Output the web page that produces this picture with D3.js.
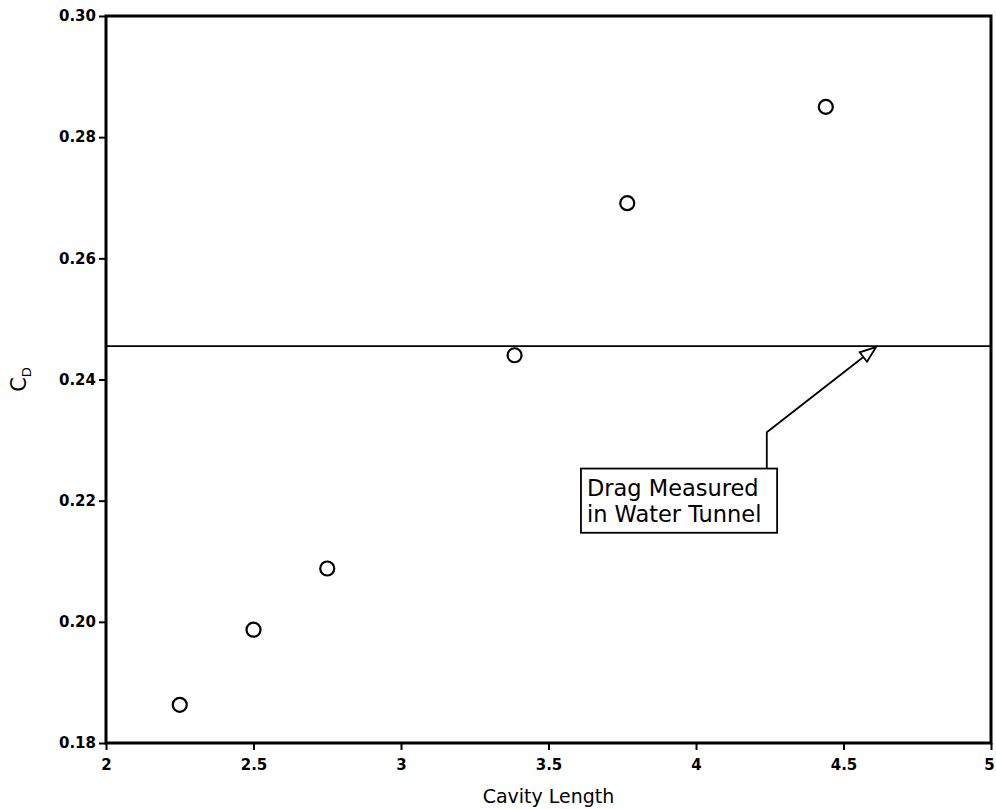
<!DOCTYPE html>
<html>
<head>
<meta charset="utf-8">
<script src="https://cdn.jsdelivr.net/npm/d3@7"></script>
<style>
  body { margin: 0; background: #fff; }
  svg { display: block; }
</style>
</head>
<body>
<div id="wrapper"></div>
<script>
// cavity length vs drag coefficient
const cavityLength = [2.25, 2.5, 2.75, 3.385, 3.767, 4.44];
const dragCoef = [0.1863, 0.1987, 0.2088, 0.2440, 0.2691, 0.2850];
const waterTunnelCd = 0.2455;
const xTicks = [2, 2.5, 3, 3.5, 4, 4.5, 5];
const yTicks = [0.18, 0.20, 0.22, 0.24, 0.26, 0.28, 0.30];
const noteLines = ["Drag Measured", "in Water Tunnel"];

const dimension = {
    width: 996,
    height: 809,
    margin: { top: 16, left: 106, bottom: 66, right: 5 }
};
dimension.boundedWidth = dimension.width - dimension.margin.left - dimension.margin.right;
dimension.boundedHeight = dimension.height - dimension.margin.top - dimension.margin.bottom;

const svg = d3.select("#wrapper").append("svg")
    .attr("width", dimension.width)
    .attr("height", dimension.height);

const bounded = svg.append("g")
    .attr("transform", `translate(${dimension.margin.left},${dimension.margin.top})`);

const xScaler = d3.scaleLinear().domain([2, 5]).range([0, dimension.boundedWidth]);
const yScaler = d3.scaleLinear().domain([0.18, 0.30]).range([dimension.boundedHeight, 0]);

// frame
bounded.append("rect")
    .attr("width", dimension.boundedWidth)
    .attr("height", dimension.boundedHeight)
    .attr("fill", "none")
    .attr("stroke", "#000")
    .attr("stroke-width", 3);

const tickFont = "'DejaVu Sans', sans-serif";

const xAxis = bounded.append("g")
    .attr("transform", `translate(0,${dimension.boundedHeight})`)
    .call(d3.axisBottom(xScaler).tickValues(xTicks).tickSize(7).tickSizeOuter(0)
        .tickFormat(d3.format("")));
const yAxis = bounded.append("g")
    .call(d3.axisLeft(yScaler).tickValues(yTicks).tickSize(7).tickSizeOuter(0)
        .tickFormat(d3.format(".2f")));

[xAxis, yAxis].forEach(ax => {
    ax.select(".domain").remove();
    ax.selectAll(".tick line").attr("stroke", "#000").attr("stroke-width", 2);
    ax.selectAll(".tick text")
        .attr("fill", "#000")
        .style("font-family", tickFont)
        .style("font-weight", "bold")
        .style("font-size", "15px");
});
xAxis.selectAll(".tick text").attr("dy", "1.1em");
// last label sits right on the page edge, nudge it in
xAxis.selectAll(".tick text").filter(d => d === 5).attr("x", -2);
yAxis.selectAll(".tick text").attr("x", -10);

// water tunnel reference line
bounded.append("line")
    .attr("x1", 0).attr("x2", dimension.boundedWidth)
    .attr("y1", yScaler(waterTunnelCd)).attr("y2", yScaler(waterTunnelCd))
    .attr("stroke", "#000").attr("stroke-width", 1.7);

// data points
bounded.selectAll("circle.pt")
    .data(cavityLength.map((x, i) => ({ x, y: dragCoef[i] })))
    .join("circle")
    .attr("class", "pt")
    .attr("cx", d => xScaler(d.x))
    .attr("cy", d => yScaler(d.y))
    .attr("r", 7)
    .attr("fill", "none")
    .attr("stroke", "#000")
    .attr("stroke-width", 2.2);

// annotation: box + leader with open arrowhead
const boxX0 = xScaler(3.61), boxX1 = xScaler(4.275);
const boxY0 = yScaler(0.2253), boxY1 = yScaler(0.2147);
const elbowX = xScaler(4.24), elbowY = yScaler(0.2313);
const tipX = xScaler(4.61), tipY = yScaler(waterTunnelCd) + 1;

bounded.append("rect")
    .attr("x", boxX0).attr("y", boxY0)
    .attr("width", boxX1 - boxX0).attr("height", boxY1 - boxY0)
    .attr("fill", "#fff").attr("stroke", "#000").attr("stroke-width", 1.8);

bounded.append("path")
    .attr("d", d3.line()([[elbowX, boxY0], [elbowX, elbowY], [tipX - 9, tipY + 7]]))
    .attr("fill", "none").attr("stroke", "#000").attr("stroke-width", 1.8);

const ang = Math.atan2(tipY - elbowY, tipX - elbowX);
const headLen = 16, headW = 6;
const bx = tipX - headLen * Math.cos(ang), by = tipY - headLen * Math.sin(ang);
const px = -Math.sin(ang) * headW, py = Math.cos(ang) * headW;
bounded.append("path")
    .attr("d", `M${tipX},${tipY}L${bx + px},${by + py}L${bx - px},${by - py}Z`)
    .attr("fill", "#fff").attr("stroke", "#000").attr("stroke-width", 1.8);

bounded.append("g").selectAll("text")
    .data(noteLines)
    .join("text")
    .attr("x", boxX0 + 6)
    .attr("y", (d, i) => boxY0 + 27 + i * 26)
    .style("font-family", "'DejaVu Sans', sans-serif")
    .style("font-size", "22.5px")
    .style("font-weight", "500")
    .text(d => d);

// axis titles
svg.append("text")
    .attr("x", dimension.margin.left + dimension.boundedWidth / 2)
    .attr("y", 803)
    .attr("text-anchor", "middle")
    .style("font-family", "'DejaVu Sans', sans-serif")
    .style("font-size", "19px")
    .text("Cavity Length");

const yTitle = svg.append("text")
    .attr("transform", `translate(26,${dimension.margin.top + dimension.boundedHeight / 2}) rotate(-90)`)
    .attr("text-anchor", "middle")
    .style("font-family", "'DejaVu Sans', sans-serif")
    .style("font-size", "21px");
yTitle.append("tspan").text("C");
yTitle.append("tspan").attr("dy", 5).style("font-size", "13px").text("D");
</script>
</body>
</html>
